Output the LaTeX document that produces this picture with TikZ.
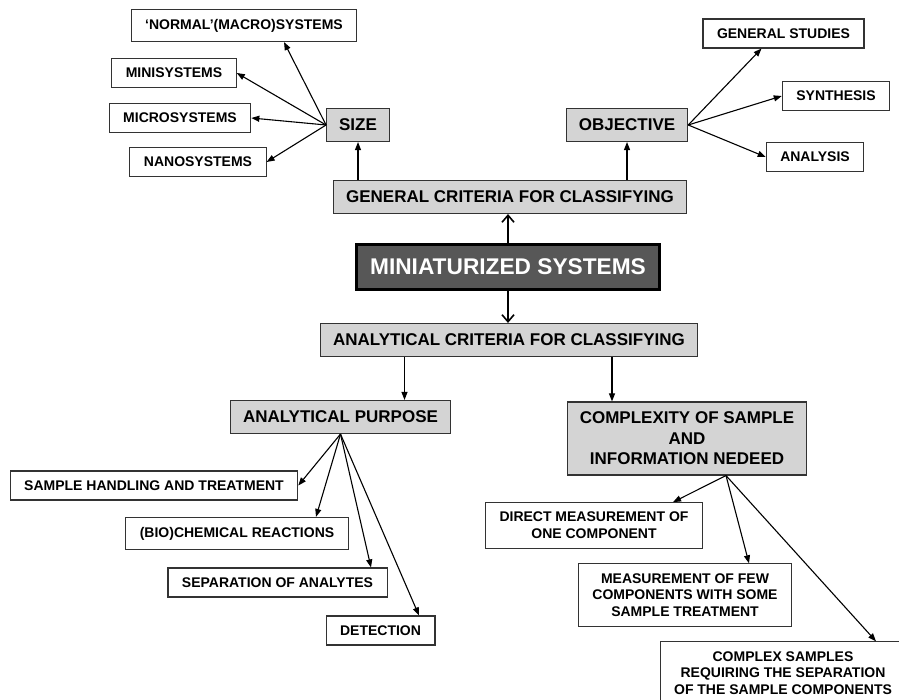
\documentclass[tikz,border=0pt]{standalone}
\usepackage{fontspec}
\setmainfont{Liberation Sans}
\usetikzlibrary{arrows.meta}

\begin{document}
\begin{tikzpicture}[x=1pt, y=-1pt,
    leaf/.style={draw=black!80, line width=1.1pt, fill=white, align=center, inner xsep=14pt, inner ysep=9.5pt, minimum height=29pt, font=\bfseries\fontsize{14}{16.7}\selectfont},
    crit/.style={draw=black!80, line width=1.1pt, fill=black!17, align=center, inner xsep=12.5pt, inner ysep=10pt, minimum height=33pt, font=\bfseries\fontsize{17}{20.5}\selectfont},
    core/.style={draw=black, line width=3pt, fill=black!66, text=white, inner xsep=14pt, minimum height=45pt, font=\bfseries\fontsize{22.7}{26}\selectfont},
    link/.style={line width=1.1pt, -{Triangle[length=8pt, width=6pt]}},
    spine/.style={line width=1.6pt, -{Straight Barb[length=7pt, width=12pt]}}]
  \useasboundingbox (0, 0) rectangle (899, 700);

  \node (core) at (508, 267) [core] {MINIATURIZED SYSTEMS};
  \node (general) at (510, 197) [crit] {GENERAL CRITERIA FOR CLASSIFYING};
  \node (analytic) at (509, 340) [crit] {ANALYTICAL CRITERIA FOR CLASSIFYING};

  \node (size) at (358, 125) [crit] {SIZE};
  \node (macro) at (244, 25.5) [leaf] {‘NORMAL’(MACRO)SYSTEMS};
  \node (mini) at (174, 73) [leaf] {MINISYSTEMS};
  \node (micro) at (180, 118) [leaf] {MICROSYSTEMS};
  \node (nano) at (198, 162) [leaf] {NANOSYSTEMS};

  \node (objective) at (627, 125) [crit] {OBJECTIVE};
  \node (studies) at (783.5, 33.5) [leaf] {GENERAL STUDIES};
  \node (synthesis) at (836, 96) [leaf] {SYNTHESIS};
  \node (analysis) at (815, 157) [leaf] {ANALYSIS};

  \node (purpose) at (340.5, 417) [crit] {ANALYTICAL PURPOSE};
  \node (handling) at (154, 485.5) [leaf] {SAMPLE HANDLING AND TREATMENT};
  \node (reactions) at (237, 533.5) [leaf] {(BIO)CHEMICAL REACTIONS};
  \node (separation) at (277.5, 582.5) [leaf] {SEPARATION OF ANALYTES};
  \node (detection) at (380.5, 630.5) [leaf] {DETECTION};

  \node (complexity) at (687, 438.5) [crit] {COMPLEXITY OF SAMPLE\\AND\\INFORMATION NEDEED};
  \node (direct) at (594, 525.5) [leaf] {DIRECT MEASUREMENT OF\\ONE COMPONENT};
  \node (few) at (685, 595) [leaf] {MEASUREMENT OF FEW\\COMPONENTS WITH SOME\\SAMPLE TREATMENT};
  \node (separate) at (783, 673) [leaf] {COMPLEX SAMPLES\\REQUIRING THE SEPARATION\\OF THE SAMPLE COMPONENTS};

  \coordinate (pa) at ([xshift=64pt]purpose.north);
  \coordinate (ca) at ([xshift=-75pt]complexity.north);
  \coordinate (cs) at ([xshift=39pt]complexity.south);

  \draw[spine] (core.north) -- (core.north |- general.south);
  \draw[spine] (core.south) -- (core.south |- analytic.north);

  \draw[link] (size.south |- general.north) -- (size.south);
  \draw[link] (size.west) -- ([xshift=40pt]macro.south);
  \draw[link] (size.west) -- (mini.east);
  \draw[link] (size.west) -- (micro.east);
  \draw[link] (size.west) -- (nano.east);

  \draw[link] (objective.south |- general.north) -- (objective.south);
  \draw[link] (objective.east) -- ([xshift=-22pt]studies.south);
  \draw[link] (objective.east) -- (synthesis.west);
  \draw[link] (objective.east) -- (analysis.west);

  \draw[link] (pa |- analytic.south) -- (pa);
  \draw[link] (purpose.south) -- (handling.east);
  \draw[link] (purpose.south) -- ([xshift=79pt]reactions.north);
  \draw[link] (purpose.south) -- ([xshift=93.5pt]separation.north);
  \draw[link] (purpose.south) -- ([xshift=38.5pt]detection.north);

  \draw[link] (ca |- analytic.south) -- (ca);
  \draw[link] (cs) -- ([xshift=79pt]direct.north);
  \draw[link] (cs) -- ([xshift=64pt]few.north);
  \draw[link] (cs) -- ([xshift=93pt]separate.north);
\end{tikzpicture}
\end{document}
